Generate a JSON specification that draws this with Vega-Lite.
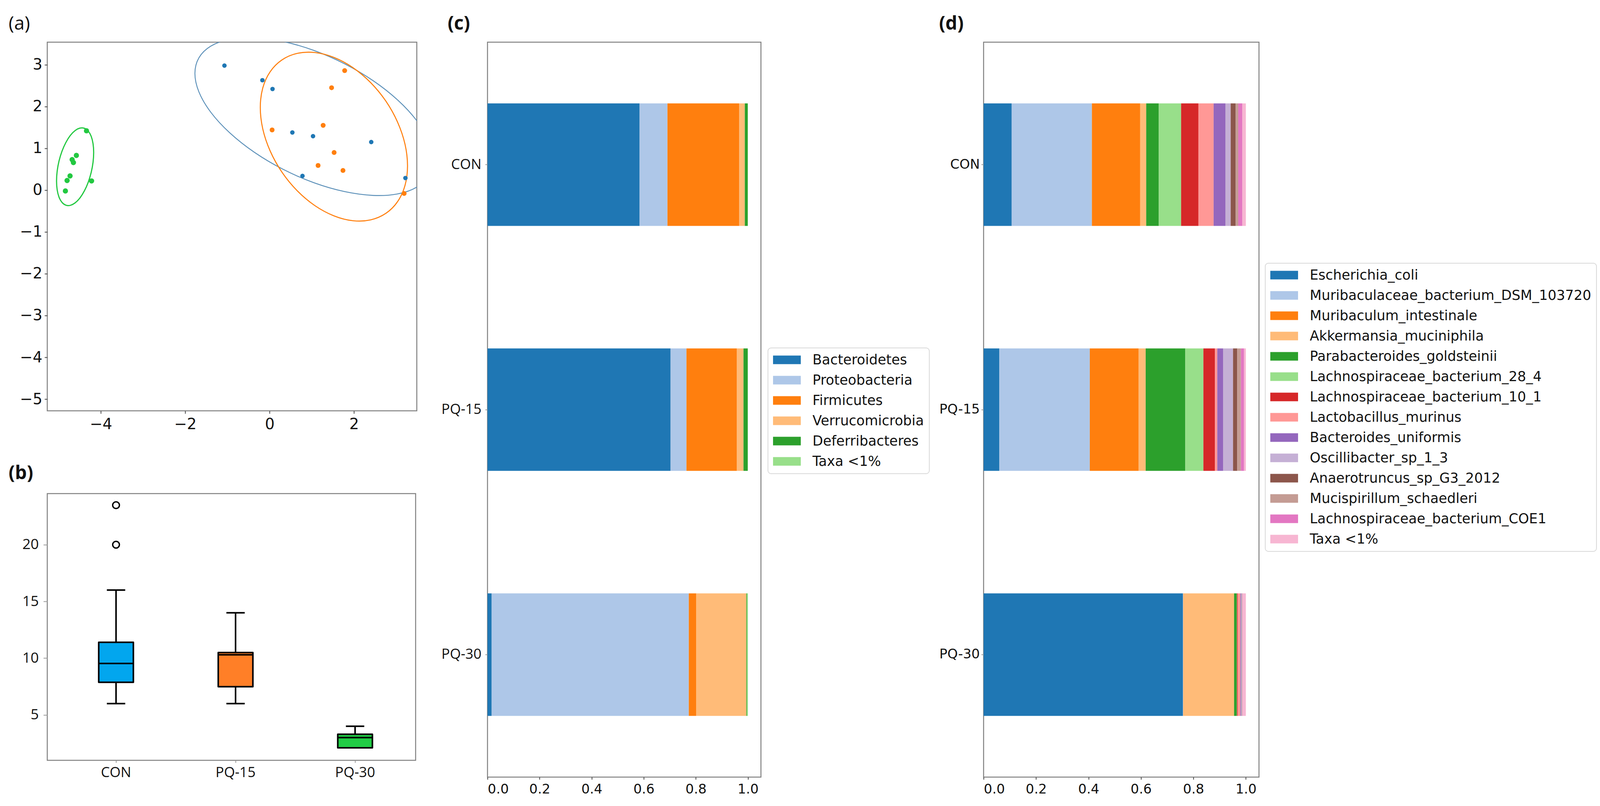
{
  "$schema": "https://vega.github.io/schema/vega-lite/v6.json",
  "background": "white",
  "padding": {"left": 20, "top": 36, "right": 0, "bottom": 0},
  "config": {
    "view": {"stroke": "#808080", "strokeWidth": 2.5},
    "axis": {"grid": false, "domain": false, "title": null, "tickColor": "#444444", "tickWidth": 2, "labelColor": "#111111"},
    "title": {"font": "Open Sans", "fontSize": 48, "color": "#111111", "anchor": "start", "frame": "group", "baseline": "bottom"},
    "legend": {"orient": "none", "title": null, "labelFont": "DejaVu Sans", "labelFontSize": 35, "labelColor": "#111111", "labelLimit": 0, "symbolType": "M-3.23,-1H3.23V1H-3.23Z", "symbolSize": 484, "symbolStrokeWidth": 0, "symbolOffset": 18, "labelOffset": 48, "rowPadding": 16, "padding": 13, "strokeColor": "#d9d9d9", "strokeWidth": 2, "cornerRadius": 8, "fillColor": "white", "symbolOpacity": 1}
  },
  "datasets": {
    "pts": [
      {"group": "CON", "x": -1.07, "y": 2.98}, {"group": "CON", "x": -0.17, "y": 2.63}, {"group": "CON", "x": 0.07, "y": 2.42}, {"group": "CON", "x": 0.54, "y": 1.38},
      {"group": "CON", "x": 1.03, "y": 1.29}, {"group": "CON", "x": 2.41, "y": 1.15}, {"group": "CON", "x": 0.78, "y": 0.34}, {"group": "CON", "x": 3.22, "y": 0.29},
      {"group": "PQ-15", "x": 1.78, "y": 2.86}, {"group": "PQ-15", "x": 1.47, "y": 2.45}, {"group": "PQ-15", "x": 0.06, "y": 1.44}, {"group": "PQ-15", "x": 1.27, "y": 1.55},
      {"group": "PQ-15", "x": 1.53, "y": 0.9}, {"group": "PQ-15", "x": 1.15, "y": 0.59}, {"group": "PQ-15", "x": 1.74, "y": 0.47}, {"group": "PQ-15", "x": 3.19, "y": -0.08},
      {"group": "PQ-30", "x": -4.34, "y": 1.42}, {"group": "PQ-30", "x": -4.58, "y": 0.83}, {"group": "PQ-30", "x": -4.68, "y": 0.73}, {"group": "PQ-30", "x": -4.65, "y": 0.66},
      {"group": "PQ-30", "x": -4.73, "y": 0.34}, {"group": "PQ-30", "x": -4.8, "y": 0.23}, {"group": "PQ-30", "x": -4.22, "y": 0.22}, {"group": "PQ-30", "x": -4.84, "y": -0.02}
    ],
    "ell": [
      {"group": "CON", "t": 0, "x": 3.87, "y": 0.728}, {"group": "CON", "t": 15, "x": 3.774, "y": 1.173}, {"group": "CON", "t": 30, "x": 3.492, "y": 1.658}, {"group": "CON", "t": 45, "x": 3.044, "y": 2.149},
      {"group": "CON", "t": 60, "x": 2.46, "y": 2.615}, {"group": "CON", "t": 75, "x": 1.78, "y": 3.022}, {"group": "CON", "t": 90, "x": 1.05, "y": 3.343}, {"group": "CON", "t": 105, "x": 0.32, "y": 3.556},
      {"group": "CON", "t": 120, "x": -0.36, "y": 3.647}, {"group": "CON", "t": 135, "x": -0.944, "y": 3.609}, {"group": "CON", "t": 150, "x": -1.392, "y": 3.446}, {"group": "CON", "t": 165, "x": -1.674, "y": 3.167},
      {"group": "CON", "t": 180, "x": -1.77, "y": 2.792}, {"group": "CON", "t": 195, "x": -1.674, "y": 2.347}, {"group": "CON", "t": 210, "x": -1.392, "y": 1.862}, {"group": "CON", "t": 225, "x": -0.944, "y": 1.371},
      {"group": "CON", "t": 240, "x": -0.36, "y": 0.905}, {"group": "CON", "t": 255, "x": 0.32, "y": 0.498}, {"group": "CON", "t": 270, "x": 1.05, "y": 0.177}, {"group": "CON", "t": 285, "x": 1.78, "y": -0.036},
      {"group": "CON", "t": 300, "x": 2.46, "y": -0.127}, {"group": "CON", "t": 315, "x": 3.044, "y": -0.089}, {"group": "CON", "t": 330, "x": 3.492, "y": 0.074}, {"group": "CON", "t": 345, "x": 3.774, "y": 0.353},
      {"group": "PQ-15", "t": 0, "x": 3.27, "y": 0.581}, {"group": "PQ-15", "t": 15, "x": 3.211, "y": 1.096}, {"group": "PQ-15", "t": 30, "x": 3.036, "y": 1.623}, {"group": "PQ-15", "t": 45, "x": 2.759, "y": 2.126},
      {"group": "PQ-15", "t": 60, "x": 2.398, "y": 2.571}, {"group": "PQ-15", "t": 75, "x": 1.977, "y": 2.93}, {"group": "PQ-15", "t": 90, "x": 1.525, "y": 3.175}, {"group": "PQ-15", "t": 105, "x": 1.073, "y": 3.292},
      {"group": "PQ-15", "t": 120, "x": 0.652, "y": 3.271}, {"group": "PQ-15", "t": 135, "x": 0.291, "y": 3.114}, {"group": "PQ-15", "t": 150, "x": 0.014, "y": 2.833}, {"group": "PQ-15", "t": 165, "x": -0.161, "y": 2.446},
      {"group": "PQ-15", "t": 180, "x": -0.22, "y": 1.979}, {"group": "PQ-15", "t": 195, "x": -0.161, "y": 1.464}, {"group": "PQ-15", "t": 210, "x": 0.014, "y": 0.937}, {"group": "PQ-15", "t": 225, "x": 0.291, "y": 0.434},
      {"group": "PQ-15", "t": 240, "x": 0.652, "y": -0.011}, {"group": "PQ-15", "t": 255, "x": 1.073, "y": -0.37}, {"group": "PQ-15", "t": 270, "x": 1.525, "y": -0.615}, {"group": "PQ-15", "t": 285, "x": 1.977, "y": -0.732},
      {"group": "PQ-15", "t": 300, "x": 2.398, "y": -0.711}, {"group": "PQ-15", "t": 315, "x": 2.759, "y": -0.554}, {"group": "PQ-15", "t": 330, "x": 3.036, "y": -0.273}, {"group": "PQ-15", "t": 345, "x": 3.211, "y": 0.114},
      {"group": "PQ-30", "t": 0, "x": -4.17, "y": 0.901}, {"group": "PQ-30", "t": 15, "x": -4.185, "y": 1.113}, {"group": "PQ-30", "t": 30, "x": -4.229, "y": 1.288}, {"group": "PQ-30", "t": 45, "x": -4.299, "y": 1.413},
      {"group": "PQ-30", "t": 60, "x": -4.39, "y": 1.48}, {"group": "PQ-30", "t": 75, "x": -4.496, "y": 1.484}, {"group": "PQ-30", "t": 90, "x": -4.61, "y": 1.425}, {"group": "PQ-30", "t": 105, "x": -4.724, "y": 1.308},
      {"group": "PQ-30", "t": 120, "x": -4.83, "y": 1.138}, {"group": "PQ-30", "t": 135, "x": -4.921, "y": 0.931}, {"group": "PQ-30", "t": 150, "x": -4.991, "y": 0.698}, {"group": "PQ-30", "t": 165, "x": -5.035, "y": 0.455},
      {"group": "PQ-30", "t": 180, "x": -5.05, "y": 0.219}, {"group": "PQ-30", "t": 195, "x": -5.035, "y": 0.007}, {"group": "PQ-30", "t": 210, "x": -4.991, "y": -0.168}, {"group": "PQ-30", "t": 225, "x": -4.921, "y": -0.293},
      {"group": "PQ-30", "t": 240, "x": -4.83, "y": -0.36}, {"group": "PQ-30", "t": 255, "x": -4.724, "y": -0.364}, {"group": "PQ-30", "t": 270, "x": -4.61, "y": -0.305}, {"group": "PQ-30", "t": 285, "x": -4.496, "y": -0.188},
      {"group": "PQ-30", "t": 300, "x": -4.39, "y": -0.018}, {"group": "PQ-30", "t": 315, "x": -4.299, "y": 0.189}, {"group": "PQ-30", "t": 330, "x": -4.229, "y": 0.422}, {"group": "PQ-30", "t": 345, "x": -4.185, "y": 0.665}
    ],
    "box": [
      {"group": "CON", "min": 6.0, "q1": 7.87, "median": 9.53, "q3": 11.4, "max": 16.0},
      {"group": "PQ-15", "min": 6.0, "q1": 7.49, "median": 10.3, "q3": 10.5, "max": 14.0},
      {"group": "PQ-30", "min": 2.1, "q1": 2.1, "median": 3.0, "q3": 3.3, "max": 4.0}
    ],
    "outl": [
      {"group": "CON", "value": 20.0},
      {"group": "CON", "value": 23.48}
    ],
    "phyla": [
      {"group": "CON", "rank": 1, "taxon": "Bacteroidetes", "value": 0.584}, {"group": "CON", "rank": 2, "taxon": "Proteobacteria", "value": 0.107}, {"group": "CON", "rank": 3, "taxon": "Firmicutes", "value": 0.275},
      {"group": "CON", "rank": 4, "taxon": "Verrucomicrobia", "value": 0.022}, {"group": "CON", "rank": 5, "taxon": "Deferribacteres", "value": 0.011}, {"group": "CON", "rank": 6, "taxon": "Taxa <1%", "value": 0.001},
      {"group": "PQ-15", "rank": 1, "taxon": "Bacteroidetes", "value": 0.703}, {"group": "PQ-15", "rank": 2, "taxon": "Proteobacteria", "value": 0.061}, {"group": "PQ-15", "rank": 3, "taxon": "Firmicutes", "value": 0.193},
      {"group": "PQ-15", "rank": 4, "taxon": "Verrucomicrobia", "value": 0.026}, {"group": "PQ-15", "rank": 5, "taxon": "Deferribacteres", "value": 0.016}, {"group": "PQ-15", "rank": 6, "taxon": "Taxa <1%", "value": 0.001},
      {"group": "PQ-30", "rank": 1, "taxon": "Bacteroidetes", "value": 0.016}, {"group": "PQ-30", "rank": 2, "taxon": "Proteobacteria", "value": 0.757}, {"group": "PQ-30", "rank": 3, "taxon": "Firmicutes", "value": 0.028},
      {"group": "PQ-30", "rank": 4, "taxon": "Verrucomicrobia", "value": 0.193}, {"group": "PQ-30", "rank": 5, "taxon": "Deferribacteres", "value": 0.002}, {"group": "PQ-30", "rank": 6, "taxon": "Taxa <1%", "value": 0.004}
    ],
    "species": [
      {"group": "CON", "rank": 1, "taxon": "Escherichia_coli", "value": 0.107}, {"group": "CON", "rank": 2, "taxon": "Muribaculaceae_bacterium_DSM_103720", "value": 0.306}, {"group": "CON", "rank": 3, "taxon": "Muribaculum_intestinale", "value": 0.184},
      {"group": "CON", "rank": 4, "taxon": "Akkermansia_muciniphila", "value": 0.023}, {"group": "CON", "rank": 5, "taxon": "Parabacteroides_goldsteinii", "value": 0.048}, {"group": "CON", "rank": 6, "taxon": "Lachnospiraceae_bacterium_28_4", "value": 0.085},
      {"group": "CON", "rank": 7, "taxon": "Lachnospiraceae_bacterium_10_1", "value": 0.066}, {"group": "CON", "rank": 8, "taxon": "Lactobacillus_murinus", "value": 0.058}, {"group": "CON", "rank": 9, "taxon": "Bacteroides_uniformis", "value": 0.045},
      {"group": "CON", "rank": 10, "taxon": "Oscillibacter_sp_1_3", "value": 0.02}, {"group": "CON", "rank": 11, "taxon": "Anaerotruncus_sp_G3_2012", "value": 0.019}, {"group": "CON", "rank": 12, "taxon": "Mucispirillum_schaedleri", "value": 0.01},
      {"group": "CON", "rank": 13, "taxon": "Lachnospiraceae_bacterium_COE1", "value": 0.015}, {"group": "CON", "rank": 14, "taxon": "Taxa <1%", "value": 0.014},
      {"group": "PQ-15", "rank": 1, "taxon": "Escherichia_coli", "value": 0.06}, {"group": "PQ-15", "rank": 2, "taxon": "Muribaculaceae_bacterium_DSM_103720", "value": 0.345}, {"group": "PQ-15", "rank": 3, "taxon": "Muribaculum_intestinale", "value": 0.186},
      {"group": "PQ-15", "rank": 4, "taxon": "Akkermansia_muciniphila", "value": 0.027}, {"group": "PQ-15", "rank": 5, "taxon": "Parabacteroides_goldsteinii", "value": 0.151}, {"group": "PQ-15", "rank": 6, "taxon": "Lachnospiraceae_bacterium_28_4", "value": 0.069},
      {"group": "PQ-15", "rank": 7, "taxon": "Lachnospiraceae_bacterium_10_1", "value": 0.044}, {"group": "PQ-15", "rank": 8, "taxon": "Lactobacillus_murinus", "value": 0.009}, {"group": "PQ-15", "rank": 9, "taxon": "Bacteroides_uniformis", "value": 0.022},
      {"group": "PQ-15", "rank": 10, "taxon": "Oscillibacter_sp_1_3", "value": 0.038}, {"group": "PQ-15", "rank": 11, "taxon": "Anaerotruncus_sp_G3_2012", "value": 0.016}, {"group": "PQ-15", "rank": 12, "taxon": "Mucispirillum_schaedleri", "value": 0.014},
      {"group": "PQ-15", "rank": 13, "taxon": "Lachnospiraceae_bacterium_COE1", "value": 0.012}, {"group": "PQ-15", "rank": 14, "taxon": "Taxa <1%", "value": 0.007},
      {"group": "PQ-30", "rank": 1, "taxon": "Escherichia_coli", "value": 0.76}, {"group": "PQ-30", "rank": 2, "taxon": "Muribaculaceae_bacterium_DSM_103720", "value": 0.001}, {"group": "PQ-30", "rank": 3, "taxon": "Muribaculum_intestinale", "value": 0.001},
      {"group": "PQ-30", "rank": 4, "taxon": "Akkermansia_muciniphila", "value": 0.193}, {"group": "PQ-30", "rank": 5, "taxon": "Parabacteroides_goldsteinii", "value": 0.01}, {"group": "PQ-30", "rank": 6, "taxon": "Lachnospiraceae_bacterium_28_4", "value": 0.001},
      {"group": "PQ-30", "rank": 7, "taxon": "Lachnospiraceae_bacterium_10_1", "value": 0.003}, {"group": "PQ-30", "rank": 8, "taxon": "Lactobacillus_murinus", "value": 0.01}, {"group": "PQ-30", "rank": 9, "taxon": "Bacteroides_uniformis", "value": 0.003},
      {"group": "PQ-30", "rank": 10, "taxon": "Oscillibacter_sp_1_3", "value": 0.002}, {"group": "PQ-30", "rank": 11, "taxon": "Anaerotruncus_sp_G3_2012", "value": 0.001}, {"group": "PQ-30", "rank": 12, "taxon": "Mucispirillum_schaedleri", "value": 0.001},
      {"group": "PQ-30", "rank": 13, "taxon": "Lachnospiraceae_bacterium_COE1", "value": 0.001}, {"group": "PQ-30", "rank": 14, "taxon": "Taxa <1%", "value": 0.013}
    ]
  },
  "spacing": 59,
  "resolve": {"scale": {"x": "independent", "y": "independent", "color": "independent"}, "legend": {"color": "independent"}},
  "hconcat": [
    {
      "vconcat": [
        {
          "width": 946,
          "height": 944,
          "title": {"text": "(a)", "dx": -99, "offset": 22, "fontWeight": "normal"},
          "resolve": {"scale": {"color": "independent"}},
          "encoding": {
            "x": {"field": "x", "type": "quantitative", "scale": {"domain": [-5.27, 3.49], "nice": false, "zero": false},
                  "axis": {"values": [-4, -2, 0, 2], "labelFont": "DejaVu Sans", "labelFontSize": 39, "tickSize": 7, "labelPadding": 8}},
            "y": {"field": "y", "type": "quantitative", "scale": {"domain": [-5.28, 3.54], "nice": false, "zero": false},
                  "axis": {"values": [-5, -4, -3, -2, -1, 0, 1, 2, 3], "labelFont": "DejaVu Sans", "labelFontSize": 39, "tickSize": 7, "labelPadding": 6}}
          },
          "layer": [
            {
              "data": {"name": "ell"},
              "mark": {"type": "line", "interpolate": "cardinal-closed", "clip": true},
              "encoding": {
                "order": {"field": "t", "type": "quantitative"},
                "color": {"field": "group", "type": "nominal", "scale": {"domain": ["CON", "PQ-15", "PQ-30"], "range": ["#5a8fb8", "#ff7f0e", "#22c840"]}, "legend": null},
                "strokeWidth": {"field": "group", "type": "ordinal", "scale": {"domain": ["CON", "PQ-15", "PQ-30"], "range": [2.3, 3, 3.5]}, "legend": null}
              }
            },
            {
              "data": {"name": "pts"},
              "mark": {"type": "circle", "opacity": 1},
              "encoding": {
                "color": {"field": "group", "type": "nominal", "scale": {"domain": ["CON", "PQ-15", "PQ-30"], "range": ["#1f77b4", "#ff7f0e", "#22c840"]}, "legend": null},
                "size": {"field": "group", "type": "ordinal", "scale": {"domain": ["CON", "PQ-15", "PQ-30"], "range": [130, 180, 230]}, "legend": null}
              }
            }
          ]
        },
        {
          "width": 943,
          "height": 683,
          "title": {"text": "(b)", "dx": -99, "offset": 27, "fontWeight": "bold"},
          "encoding": {
            "x": {"field": "group", "type": "nominal", "sort": ["CON", "PQ-15", "PQ-30"], "scale": {"paddingInner": 0, "paddingOuter": 0.041, "align": 0.92},
                  "axis": {"labelAngle": 0, "labelFont": "Open Sans", "labelFontSize": 36, "tickSize": 6, "tickColor": "#999999", "labelPadding": 8}}
          },
          "layer": [
            {
              "data": {"name": "box"},
              "mark": {"type": "rule", "color": "black", "strokeWidth": 4},
              "encoding": {
                "y": {"field": "min", "type": "quantitative", "scale": {"domain": [1.0, 24.5], "nice": false, "zero": false},
                      "axis": {"values": [5, 10, 15, 20], "labelFont": "Open Sans", "labelFontSize": 37, "tickSize": 10, "tickColor": "#999999", "labelPadding": 12}},
                "y2": {"field": "max"}
              }
            },
            {
              "data": {"name": "box"},
              "mark": {"type": "bar", "stroke": "black", "strokeWidth": 4, "strokeJoin": "round", "width": {"band": 0.29}},
              "encoding": {
                "y": {"field": "q1", "type": "quantitative"},
                "y2": {"field": "q3"},
                "color": {"field": "group", "type": "nominal", "scale": {"domain": ["CON", "PQ-15", "PQ-30"], "range": ["#02a6ee", "#ff7f27", "#21cc45"]}, "legend": null}
              }
            },
            {
              "data": {"name": "box"},
              "mark": {"type": "tick", "color": "black", "thickness": 4, "size": 89, "opacity": 1},
              "encoding": {"y": {"field": "median", "type": "quantitative"}}
            },
            {
              "data": {"name": "box"},
              "mark": {"type": "tick", "color": "black", "thickness": 4, "size": 47, "opacity": 1},
              "encoding": {"y": {"field": "max", "type": "quantitative"}}
            },
            {
              "data": {"name": "box"},
              "mark": {"type": "tick", "color": "black", "thickness": 4, "size": 47, "opacity": 1},
              "encoding": {"y": {"field": "min", "type": "quantitative"}}
            },
            {
              "data": {"name": "outl"},
              "mark": {"type": "point", "filled": false, "color": "black", "strokeWidth": 3.5, "size": 300, "opacity": 1},
              "encoding": {"y": {"field": "value", "type": "quantitative"}}
            }
          ]
        }
      ],
      "spacing": 79,
      "resolve": {"scale": {"x": "independent", "y": "independent", "color": "independent"}, "legend": {"color": "independent"}}
    },
    {
      "hconcat": [
        {
          "width": 700,
          "height": 1882,
          "title": {"text": "(c)", "dx": -102, "offset": 22, "fontWeight": "bold"},
          "data": {"name": "phyla"},
          "mark": {"type": "bar"},
          "encoding": {
            "y": {"field": "group", "type": "nominal", "sort": ["CON", "PQ-15", "PQ-30"], "scale": {"paddingInner": 0.5, "paddingOuter": 0.25},
                  "axis": {"labelFont": "Open Sans", "labelFontSize": 36, "tickSize": 6, "tickColor": "#999999", "labelPadding": 10}},
            "x": {"field": "value", "type": "quantitative", "stack": "zero", "scale": {"domain": [0, 1.05], "nice": false},
                  "axis": {"values": [0, 0.2, 0.4, 0.6, 0.8, 1.0], "format": ".1f", "labelFont": "DejaVu Sans", "labelFontSize": 34, "tickSize": 6, "labelPadding": 8}},
            "order": {"field": "rank", "type": "quantitative"},
            "color": {"field": "taxon", "type": "nominal",
                      "scale": {"domain": ["Bacteroidetes", "Proteobacteria", "Firmicutes", "Verrucomicrobia", "Deferribacteres", "Taxa <1%"],
                                "range": ["#1f77b4", "#aec7e8", "#ff7f0e", "#ffbb78", "#2ca02c", "#98df8a"]},
                      "legend": {"legendX": 718, "legendY": 783}}
          }
        },
        {
          "width": 705,
          "height": 1882,
          "title": {"text": "(d)", "dx": -114, "offset": 22, "fontWeight": "bold"},
          "data": {"name": "species"},
          "mark": {"type": "bar"},
          "encoding": {
            "y": {"field": "group", "type": "nominal", "sort": ["CON", "PQ-15", "PQ-30"], "scale": {"paddingInner": 0.5, "paddingOuter": 0.25},
                  "axis": {"labelFont": "DejaVu Sans", "labelFontSize": 34, "tickSize": 6, "tickColor": "#999999", "labelPadding": 4}},
            "x": {"field": "value", "type": "quantitative", "stack": "zero", "scale": {"domain": [0, 1.05], "nice": false},
                  "axis": {"values": [0, 0.2, 0.4, 0.6, 0.8, 1.0], "format": ".1f", "labelFont": "DejaVu Sans", "labelFontSize": 34, "tickSize": 6, "labelPadding": 8}},
            "order": {"field": "rank", "type": "quantitative"},
            "color": {"field": "taxon", "type": "nominal",
                      "scale": {"domain": ["Escherichia_coli", "Muribaculaceae_bacterium_DSM_103720", "Muribaculum_intestinale", "Akkermansia_muciniphila", "Parabacteroides_goldsteinii", "Lachnospiraceae_bacterium_28_4", "Lachnospiraceae_bacterium_10_1", "Lactobacillus_murinus", "Bacteroides_uniformis", "Oscillibacter_sp_1_3", "Anaerotruncus_sp_G3_2012", "Mucispirillum_schaedleri", "Lachnospiraceae_bacterium_COE1", "Taxa <1%"],
                                "range": ["#1f77b4", "#aec7e8", "#ff7f0e", "#ffbb78", "#2ca02c", "#98df8a", "#d62728", "#ff9896", "#9467bd", "#c5b0d5", "#8c564b", "#c49c94", "#e377c2", "#f7b6d2"]},
                      "legend": {"legendX": 721, "legendY": 566}}
          }
        }
      ],
      "spacing": 20,
      "resolve": {"scale": {"x": "independent", "y": "independent", "color": "independent"}, "legend": {"color": "independent"}}
    }
  ]
}
